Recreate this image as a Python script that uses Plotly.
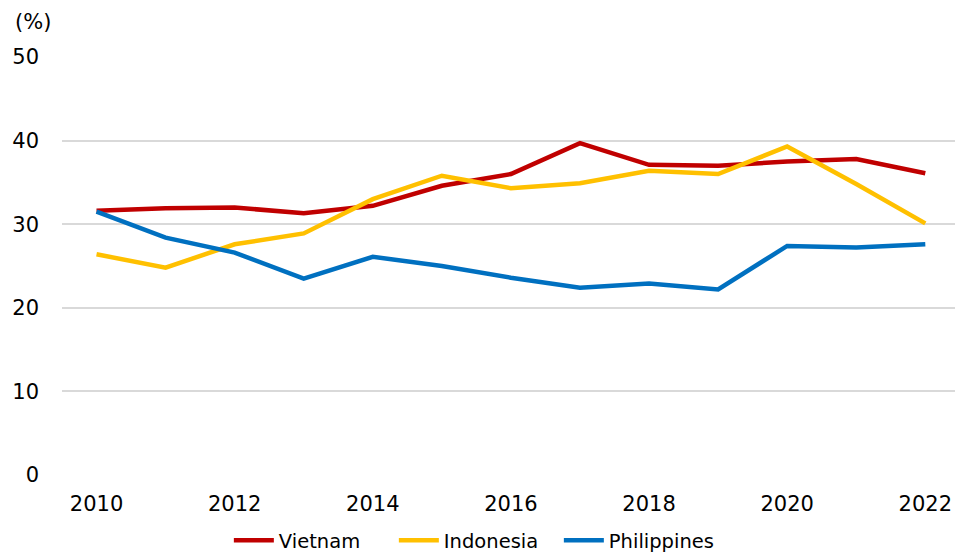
import plotly.graph_objects as go

years = list(range(2010, 2023))
vietnam = [31.6, 31.9, 32.0, 31.3, 32.2, 34.6, 36.0, 39.7, 37.1, 37.0, 37.5, 37.8, 36.1]
indonesia = [26.4, 24.8, 27.6, 28.9, 33.0, 35.8, 34.3, 34.9, 36.4, 36.0, 39.3, 34.8, 30.1]
philippines = [31.5, 28.4, 26.6, 23.5, 26.1, 25.0, 23.6, 22.4, 22.9, 22.2, 27.4, 27.2, 27.6]

series = [("Vietnam", vietnam, "#C00000"),
          ("Indonesia", indonesia, "#FFC000"),
          ("Philippines", philippines, "#0070C0")]

fig = go.Figure()
for name, vals, col in series:
    fig.add_trace(go.Scatter(x=years, y=vals, name=name, mode="lines",
                             line=dict(color=col, width=4.5)))

font = "DejaVu Sans, Verdana, sans-serif"
fig.update_layout(
    width=955, height=554,
    margin=dict(l=62, r=0, t=57, b=79, autoexpand=False),
    plot_bgcolor="white", paper_bgcolor="white",
    font=dict(family=font, size=21, color="#000000"),
    xaxis=dict(range=[2009.5, 2022.43], tickvals=[2010, 2012, 2014, 2016, 2018, 2020, 2022],
               showgrid=False, zeroline=False, showline=False, ticks="",
               ticklabelstandoff=14, tickfont=dict(size=21), automargin=False),
    yaxis=dict(range=[0, 50], tickvals=[0, 10, 20, 30, 40, 50], showgrid=True,
               gridcolor="#D9D9D9", gridwidth=1.5, zeroline=False, ticks="",
               ticklabelstandoff=22, tickfont=dict(size=21), automargin=False),
    legend=dict(orientation="h", x=0.464, xanchor="center", y=-0.11, yanchor="top",
                font=dict(size=19.5), itemwidth=40, tracegroupgap=0,
                entrywidth=110, entrywidthmode="pixels"),
    showlegend=True,
)
fig.add_annotation(text="(%)", xref="paper", yref="paper", x=-0.055, y=1.084,
                   xanchor="left", yanchor="middle", showarrow=False,
                   font=dict(size=21, family=font))
fig.write_html("out.html", config={"displayModeBar": False},
               post_script="document.body.style.margin='0';document.body.style.overflow='hidden';")
